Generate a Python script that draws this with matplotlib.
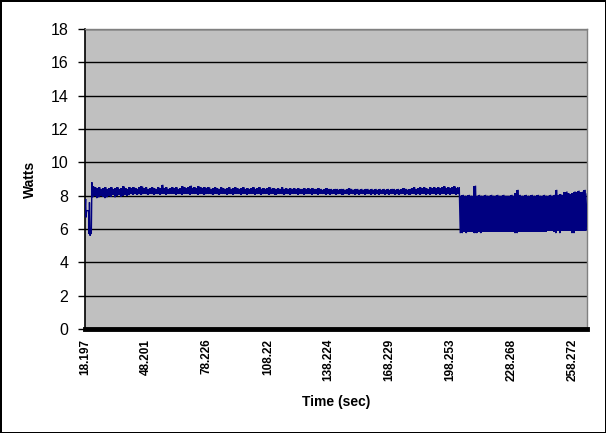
import numpy as np
import matplotlib
matplotlib.use("Agg")
import matplotlib.pyplot as plt

# ---- data ----
# start-up transient (time s, watts)
start_t = [18.2, 18.5, 18.7, 19.0, 19.5, 20.0, 20.2, 20.4, 20.7, 21.0, 21.3, 21.6]
start_w = [7.0, 7.8, 6.7, 7.1, 7.1, 7.1, 5.7, 7.6, 5.6, 5.8, 5.7, 8.8]

# steady phase: per-second envelope, t = 22 .. 202
steady_t0, steady_t1 = 22, 202
steady_high = [
    8.55, 8.5, 8.45, 8.5, 8.4, 8.45, 8.5, 8.4, 8.45, 8.5, 8.4, 8.45, 8.5, 8.4, 8.45, 8.55, 8.45, 8.4, 8.5, 8.45,
    8.5, 8.45, 8.4, 8.5, 8.55, 8.45, 8.5, 8.4, 8.45, 8.5, 8.45, 8.4, 8.5, 8.45, 8.65, 8.45, 8.5, 8.4, 8.45, 8.5,
    8.45, 8.5, 8.4, 8.45, 8.55, 8.5, 8.45, 8.5, 8.6, 8.45, 8.5, 8.45, 8.55, 8.5, 8.45, 8.5, 8.45, 8.5, 8.4, 8.45,
    8.5, 8.45, 8.4, 8.5, 8.45, 8.4, 8.45, 8.5, 8.4, 8.45, 8.5, 8.45, 8.4, 8.45, 8.5, 8.4, 8.45, 8.4, 8.45, 8.5,
    8.4, 8.45, 8.5, 8.4, 8.45, 8.4, 8.45, 8.5, 8.4, 8.45, 8.4, 8.45, 8.4, 8.5, 8.4, 8.45, 8.4, 8.45, 8.4, 8.45,
    8.4, 8.45, 8.4, 8.4, 8.45, 8.4, 8.45, 8.4, 8.45, 8.4, 8.4, 8.45, 8.4, 8.35, 8.4, 8.45, 8.4, 8.4, 8.35, 8.4,
    8.4, 8.35, 8.4, 8.4, 8.35, 8.4, 8.45, 8.4, 8.35, 8.4, 8.4, 8.35, 8.4, 8.35, 8.4, 8.4, 8.35, 8.4, 8.35, 8.4,
    8.35, 8.4, 8.35, 8.4, 8.35, 8.4, 8.35, 8.4, 8.4, 8.35, 8.4, 8.35, 8.4, 8.45, 8.4, 8.35, 8.4, 8.45, 8.5, 8.4,
    8.45, 8.5, 8.45, 8.5, 8.45, 8.4, 8.5, 8.45, 8.5, 8.45, 8.5, 8.45, 8.5, 8.55, 8.45, 8.5, 8.45, 8.5, 8.55, 8.45,
    8.5,
]
steady_low = [
    7.9, 8.0, 7.85, 7.9, 8.0, 7.95, 7.85, 7.9, 8.0, 7.95, 8.05, 7.9, 8.0, 8.05, 7.95, 8.0, 8.05, 8.0, 8.05, 8.1,
    8.05, 8.1, 8.05, 8.1, 8.05, 8.1, 8.1, 8.05, 8.1, 8.1, 8.05, 8.1, 8.1, 8.05, 8.1, 8.1, 8.05, 8.1, 8.1, 8.1,
    8.1, 8.05, 8.1, 8.1, 8.05, 8.1, 8.1, 8.1, 8.05, 8.1, 8.1, 8.1, 8.05, 8.1, 8.1, 8.05, 8.1, 8.1, 8.1, 8.05,
    8.1, 8.1, 8.05, 8.1, 8.1, 8.1, 8.05, 8.1, 8.1, 8.05, 8.1, 8.1, 8.1, 8.05, 8.1, 8.1, 8.05, 8.1, 8.1, 8.1,
    8.05, 8.1, 8.1, 8.05, 8.1, 8.1, 8.1, 8.05, 8.1, 8.1, 8.05, 8.1, 8.1, 8.1, 8.05, 8.1, 8.1, 8.05, 8.1, 8.1,
    8.1, 8.05, 8.1, 8.1, 8.05, 8.1, 8.1, 8.1, 8.05, 8.1, 8.1, 8.05, 8.1, 8.1, 8.1, 8.05, 8.1, 8.05, 8.1, 8.1,
    8.05, 8.1, 8.1, 8.05, 8.1, 8.1, 8.05, 8.1, 8.1, 8.05, 8.1, 8.05, 8.1, 8.1, 8.05, 8.1, 8.1, 8.05, 8.1, 8.05,
    8.1, 8.05, 8.1, 8.1, 8.05, 8.1, 8.05, 8.1, 8.1, 8.05, 8.1, 8.05, 8.1, 8.1, 8.05, 8.1, 8.05, 8.1, 8.1, 8.05,
    8.1, 8.05, 8.1, 8.1, 8.05, 8.1, 8.05, 8.1, 8.1, 8.05, 8.1, 8.05, 8.1, 8.1, 8.05, 8.1, 8.05, 8.1, 8.1, 8.05,
    8.1,
]

# switching phase: per-second envelope, t = 203 .. 265
switch_t0, switch_t1 = 203, 265
switch_high = [
    8.0, 8.05, 8.0, 8.0, 8.05, 8.0, 8.0, 8.6, 8.0, 8.05,
    8.0, 8.0, 8.05, 8.0, 8.0, 8.05, 8.0, 8.0, 8.05, 8.0,
    8.0, 8.05, 8.0, 8.0, 8.0, 8.05, 8.0, 8.15, 8.35, 8.05,
    8.0, 8.0, 8.05, 8.0, 8.0, 8.05, 8.0, 8.0, 8.05, 8.0,
    8.0, 8.05, 8.0, 8.0, 8.05, 8.0, 8.05, 8.35, 8.05, 8.1,
    8.05, 8.2, 8.25, 8.15, 8.1, 8.15, 8.25, 8.2, 8.3, 8.2,
    8.25, 8.35, 8.1,
]
switch_low = [
    5.75, 5.75, 5.85, 5.75, 5.85, 5.85, 5.85, 5.75, 5.75, 5.85,
    5.75, 5.85, 5.85, 5.85, 5.85, 5.85, 5.85, 5.85, 5.85, 5.85,
    5.85, 5.85, 5.85, 5.85, 5.85, 5.85, 5.85, 5.75, 5.75, 5.85,
    5.85, 5.85, 5.85, 5.85, 5.85, 5.85, 5.85, 5.85, 5.85, 5.85,
    5.85, 5.85, 5.85, 5.9, 5.9, 5.9, 5.85, 5.75, 5.9, 5.75,
    5.9, 5.9, 5.9, 5.9, 5.9, 5.75, 5.75, 5.9, 5.9, 5.9,
    5.9, 5.9, 5.9,
]

tick_labels = ["18.197", "48.201", "78.226", "108.22", "138.224",
               "168.229", "198.253", "228.268", "258.272"]
y_ticks = [0, 2, 4, 6, 8, 10, 12, 14, 16, 18]

NAVY = "#000080"

# ---- build the trace: low sample at t, high sample half a second later ----
def zigzag(t0, t1, low, high):
    t = np.arange(t0, t1 + 1, dtype=float)
    xs = np.column_stack((t, t + 0.5)).ravel()
    ys = np.column_stack((low, high)).ravel()
    return t, xs, ys

st, sx, sy = zigzag(steady_t0, steady_t1, steady_low, steady_high)
wt, wx, wy = zigzag(switch_t0, switch_t1, switch_low, switch_high)
x = np.concatenate([start_t, sx, wx])
y = np.concatenate([start_w, sy, wy])

# ---- figure ----
fig = plt.figure(figsize=(6.06, 4.33), dpi=100, facecolor="white",
                 edgecolor="black", linewidth=2)
ax = fig.add_axes([85 / 606, 1 - 329 / 433, (587 - 85) / 606, (329 - 29) / 433])
ax.set_facecolor("#C0C0C0")

# dense sample envelope (the line is drawn so densely it reads as a solid band)
ax.fill_between(st, steady_low, steady_high, step="mid", color=NAVY,
                linewidth=0, zorder=2)
ax.fill_between(wt, switch_low, switch_high, step="mid", color=NAVY,
                linewidth=0, zorder=2)
ax.plot(x, y, color=NAVY, linewidth=1.0, solid_joinstyle="bevel", zorder=3)

ax.set_ylim(0, 18)
ax.set_xlim(18.197, 265.4)
ax.set_yticks(y_ticks)
ax.set_yticklabels([str(v) for v in y_ticks], fontsize=11.5,
                   fontfamily="Liberation Sans")
tick_pos = [float(v) for v in tick_labels]
ax.set_xticks(tick_pos)
ax.set_xticklabels(tick_labels, rotation=90, fontsize=8.5, fontweight="bold",
                   fontfamily="Liberation Sans")

ax.grid(axis="y", color="black", linewidth=1, zorder=1)
ax.set_axisbelow(True)

ax.tick_params(axis="y", direction="out", length=5, width=1, pad=7, colors="black")
ax.tick_params(axis="x", length=0, pad=7)

for side in ("top", "right"):
    ax.spines[side].set_color("#808080")
    ax.spines[side].set_linewidth(1)
ax.spines["left"].set_color("black")
ax.spines["left"].set_linewidth(1.2)
ax.spines["bottom"].set_color("black")
ax.spines["bottom"].set_linewidth(3.5)
ax.spines["bottom"].set_zorder(5)

ax.set_xlabel("Time (sec)", fontsize=10, fontweight="bold",
              fontfamily="Liberation Sans", labelpad=10)
ax.set_ylabel("Watts", fontsize=10, fontweight="bold",
              fontfamily="Liberation Sans", labelpad=10)

fig.savefig("out.png", dpi=100, facecolor="white", edgecolor="black")
